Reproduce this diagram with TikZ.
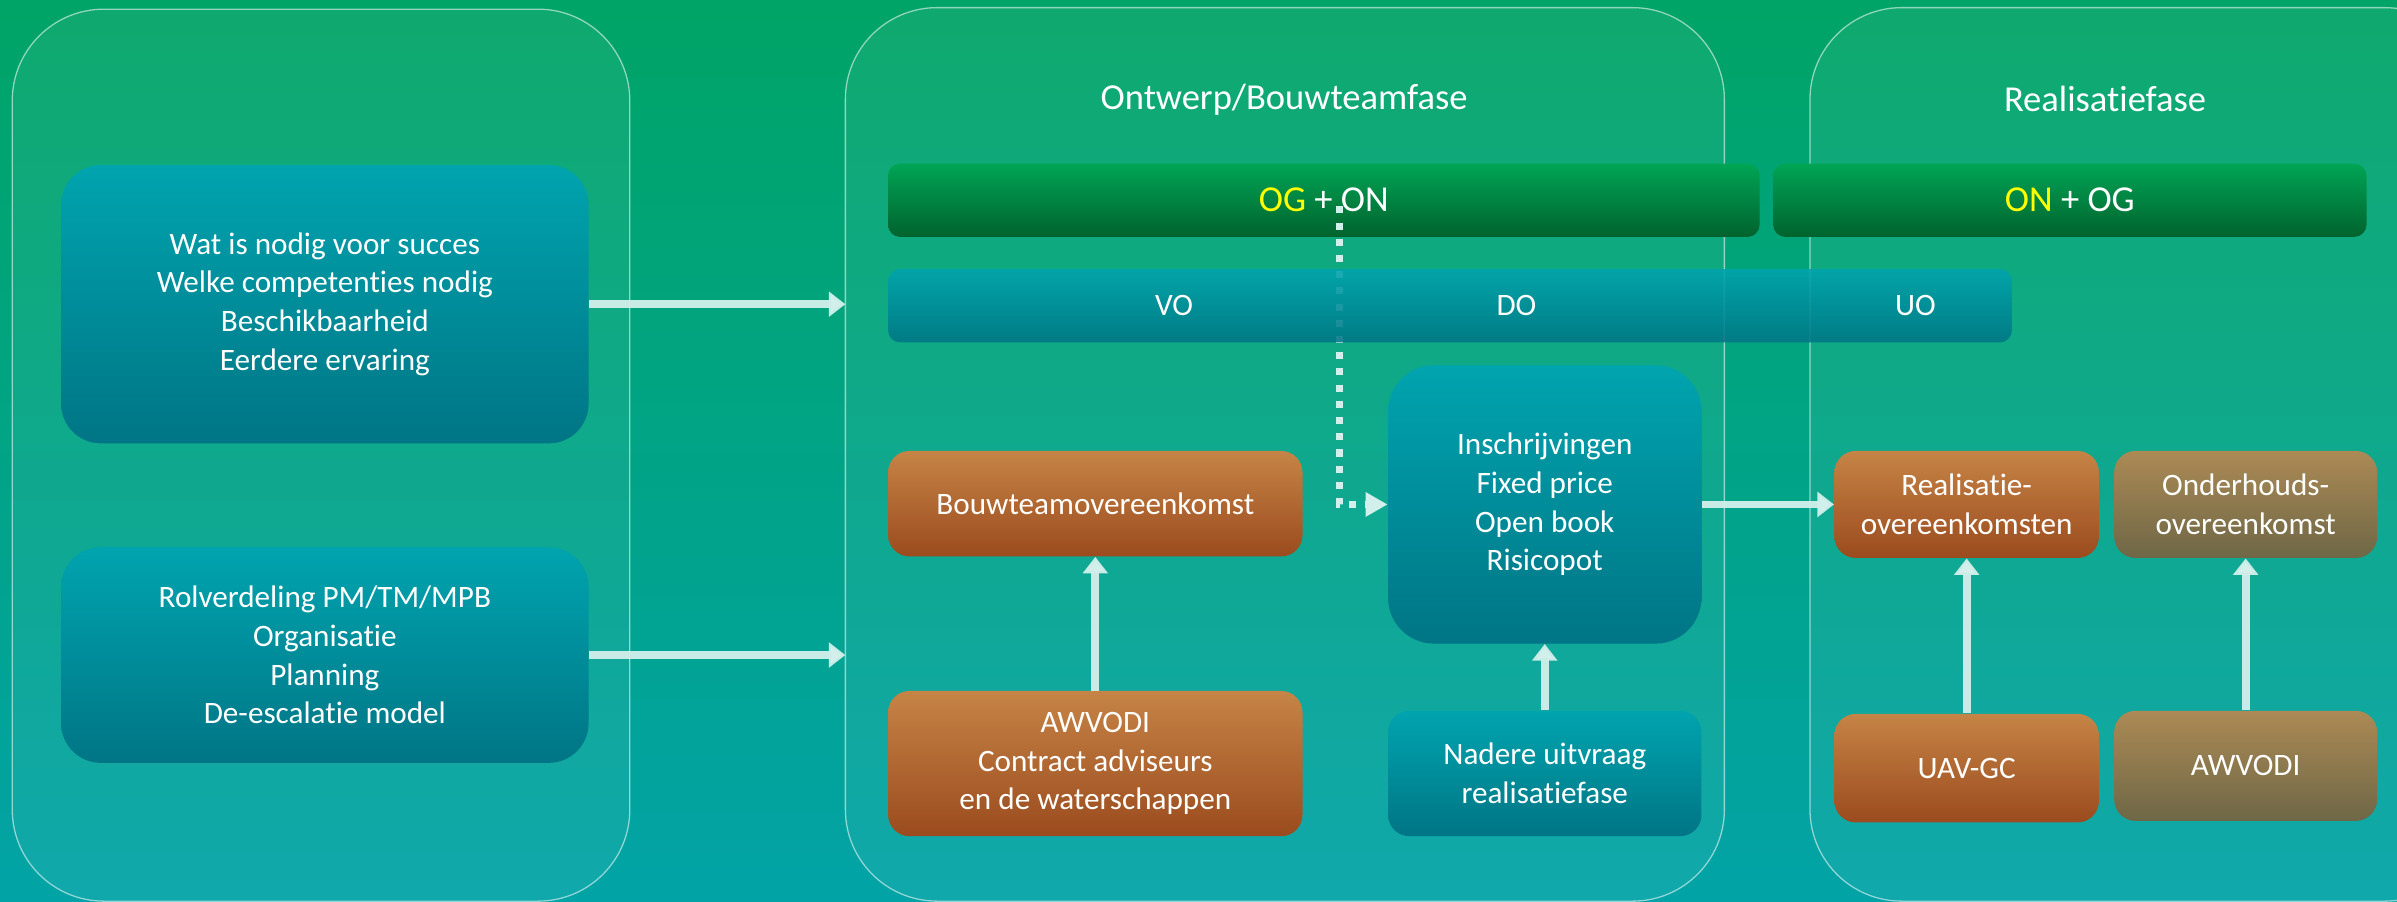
\documentclass[tikz,border=0pt]{standalone}
\usepackage{fontspec}
\setmainfont{Carlito}[Ligatures=CommonOff]
\usetikzlibrary{arrows.meta}

\definecolor{bgtop}{HTML}{00A466}
\definecolor{bgbot}{HTML}{02A3A6}
\definecolor{tealtop}{HTML}{00A4AF}
\definecolor{tealbot}{HTML}{007585}
\definecolor{groentop}{HTML}{00A555}
\definecolor{groenbot}{HTML}{00622D}
\definecolor{oranjetop}{HTML}{C68446}
\definecolor{oranjebot}{HTML}{9B4B1E}
\definecolor{olijftop}{HTML}{AC8A55}
\definecolor{olijfbot}{HTML}{6E6746}
\definecolor{pijlc}{HTML}{D2EFEB}
\definecolor{geel}{HTML}{FFFF00}

\tikzset{
  fase/.style={draw=white, draw opacity=0.55, line width=0.6pt, fill=white, fill opacity=0.06, rounded corners=1.5cm},
  titel/.style={text=white, font=\fontsize{17}{20}\selectfont},
  blok/.style={rounded corners=0.35cm, text=white, align=center, inner sep=0pt, font=\fontsize{14.5}{18}\selectfont},
  tealblok/.style={blok, top color=tealtop, bottom color=tealbot},
  oranjeblok/.style={blok, top color=oranjetop, bottom color=oranjebot},
  olijfblok/.style={blok, top color=olijftop, bottom color=olijfbot},
  balk/.style={blok, rounded corners=0.2cm, minimum height=1.2cm, font=\fontsize{17}{20}\selectfont},
  pijl/.style={draw=pijlc, draw opacity=0.95, line width=0.125cm, -{Triangle[width=0.4cm,length=0.27cm]}},
  stip/.style={draw=pijlc, line width=0.115cm, dash pattern=on 0.115cm off 0.15cm, -{Triangle[width=0.38cm,length=0.36cm]}},
}

\begin{document}
\begin{tikzpicture}[x=0.025cm, y=0.025cm]
  % achtergrond
  \fill[top color=bgtop, bottom color=bgbot] (0,0) rectangle (1568,590);
  \useasboundingbox (0,0) rectangle (1568,590);
  \clip (0,0) rectangle (1568,590);

  % fasen
  \draw[fase] (8,0.5) rectangle (412,584);
  \draw[fase] (553,0.5) rectangle (1128,585);
  \draw[fase] (1184,0.5) rectangle (1620,585);
  \node[titel] (ontwerp) at (840,525) {Ontwerp/Bouwteamfase};
  \node[titel] (realfase) at (1377,525) {Realisatiefase};

  % linker kolom
  \node[tealblok, rounded corners=0.65cm, minimum width=8.625cm, minimum height=4.55cm] (succes) at (212.5,391)
    {Wat is nodig voor succes\\Welke competenties nodig\\Beschikbaarheid\\Eerdere ervaring};
  \node[tealblok, rounded corners=0.65cm, minimum width=8.625cm, minimum height=3.525cm] (rol) at (212.5,161.5)
    {Rolverdeling PM/TM/MPB\\Organisatie\\Planning\\De-escalatie model};
  \coordinate (inA) at (553,391);
  \coordinate (inB) at (553,161.5);
  \draw[pijl] (succes.east) -- (inA);
  \draw[pijl] (rol.east) -- (inB);

  % partijen
  \node[balk, top color=groentop, bottom color=groenbot, minimum width=14.25cm] (ogon) at (866,459)
    {{\color{geel}OG} + ON};
  \node[balk, top color=groentop, bottom color=groenbot, minimum width=9.7cm] (onog) at (1354,459)
    {{\color{geel}ON} + OG};

  % ontwerpfase
  \node[oranjeblok, minimum width=6.775cm, minimum height=1.725cm] (bouwteam) at (716.5,260.5) {Bouwteamovereenkomst};
  \node[oranjeblok, minimum width=6.775cm, minimum height=2.375cm] (awvodi) at (716.5,90.5)
    {AWVODI\\Contract adviseurs\\en de waterschappen};
  \node[tealblok, rounded corners=0.75cm, minimum width=5.125cm, minimum height=4.55cm] (inschr) at (1010.5,260)
    {Inschrijvingen\\Fixed price\\Open book\\Risicopot};
  \node[tealblok, minimum width=5.125cm, minimum height=2.05cm] (nadere) at (1010.5,84)
    {Nadere uitvraag\\realisatiefase};
  \draw[pijl] (awvodi.north) -- (bouwteam.south);
  \draw[pijl] (nadere.north) -- (inschr.south);

  % realisatiefase
  \node[oranjeblok, minimum width=4.325cm, minimum height=1.75cm] (realovk) at (1286.5,260)
    {Realisatie-\\overeenkomsten};
  \node[olijfblok, minimum width=4.3cm, minimum height=1.75cm] (onderh) at (1469,260)
    {Onderhouds-\\overeenkomst};
  \node[oranjeblok, minimum width=4.325cm, minimum height=1.775cm] (uavgc) at (1286.5,87.5) {UAV-GC};
  \node[olijfblok, minimum width=4.3cm, minimum height=1.8cm] (awvodi2) at (1469,89) {AWVODI};
  \draw[pijl] (inschr.east) -- (realovk.west);
  \draw[pijl] (uavgc.north) -- (realovk.south);
  \draw[pijl] (awvodi2.north) -- (onderh.south);

  % stippellijn onder de fasebalk
  \coordinate (stipstart) at (876,455);
  \draw[stip] (stipstart) |- (inschr.west);
  \node[balk, top color=tealtop, bottom color=tealbot, fill opacity=0.88, text opacity=1,
    minimum width=18.375cm] (fasebalk) at (948.5,390) {};
  \node[blok] (vo) at (768,390) {VO};
  \node[blok] (do) at (992,390) {DO};
  \node[blok] (uo) at (1253,390) {UO};
\end{tikzpicture}
\end{document}
